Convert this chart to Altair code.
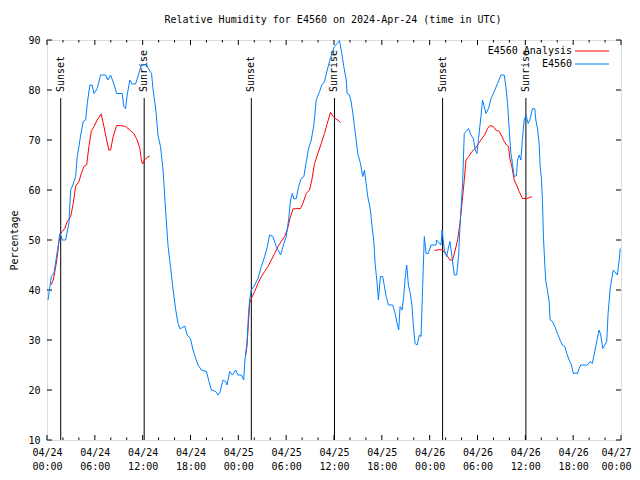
import altair as alt
import pandas as pd

# hours since 2024-04-24 00:00 UTC, relative humidity (%)
blue_h = [0.13, 0.54, 0.88, 1.29, 1.63, 1.92, 2.34, 2.75, 2.97, 3.29, 3.59, 3.79, 4.01, 4.22, 4.55, 4.85,
          5.05, 5.38, 5.67, 5.89, 6.30, 6.72, 7.35, 7.64, 7.98, 8.39, 8.73, 9.43, 9.64, 9.86, 10.06, 10.39,
          10.68, 11.11, 11.52, 11.81, 12.48, 12.77, 13.11, 13.31, 13.65, 13.94, 14.24, 14.56, 14.90, 15.19,
          15.49, 15.82, 16.15, 16.44, 16.65, 16.87, 17.28, 17.57, 17.99, 18.32, 18.66, 18.95, 19.37, 20.00,
          20.32, 20.62, 21.16, 21.45, 21.66, 22.08, 22.41, 22.58, 22.92, 23.25, 23.67, 23.95, 24.38, 24.67,
          24.83, 25.08, 25.26, 25.42, 25.63, 26.05, 26.46, 26.89, 27.30, 27.64, 27.92, 28.34, 28.76, 29.30,
          29.71, 30.01, 30.30, 30.55, 30.77, 30.97, 31.27, 31.56, 31.89, 32.22, 32.52, 32.81, 33.15, 33.47,
          33.77, 34.19, 34.47, 34.81, 35.15, 35.44, 35.73, 36.06, 36.40, 36.69, 36.98, 37.23, 37.53, 37.65,
          37.94, 38.15, 38.36, 38.57, 38.78, 38.98, 39.32, 39.61, 39.82, 40.03, 40.23, 40.57, 40.73, 40.98,
          41.16, 41.41, 41.57, 41.82, 42.11, 42.33, 42.54, 42.83, 43.36, 43.67, 43.91, 44.12, 44.29, 44.54,
          44.74, 44.95, 45.12, 45.33, 45.58, 45.79, 45.96, 46.17, 46.42, 46.71, 46.92, 47.12, 47.33, 47.55,
          47.83, 48.17, 48.80, 48.88, 49.42, 49.55, 49.84, 50.13, 50.38, 50.55, 50.80, 51.09, 51.38, 51.63,
          51.80, 52.00, 52.13, 52.34, 52.55, 52.88, 53.18, 53.47, 53.72, 53.93, 54.13, 54.43, 54.63, 54.85,
          55.06, 55.39, 55.69, 56.10, 56.51, 56.94, 57.35, 57.56, 57.77, 57.98, 58.19, 58.39, 58.60, 58.89,
          59.02, 59.23, 59.44, 59.64, 59.86, 60.07, 60.36, 60.61, 60.90, 61.19, 61.32, 61.52, 61.73, 61.86,
          62.02, 62.15, 62.27, 62.45, 62.57, 62.77, 62.99, 63.11, 63.40, 63.70, 64.03, 64.36, 64.65, 64.95,
          65.20, 65.49, 65.78, 66.03, 66.33, 66.53, 66.74, 66.95, 67.79, 68.12, 68.41, 68.62, 68.83, 69.03,
          69.25, 69.46, 69.71, 69.96, 70.21, 70.38, 70.63, 70.84, 71.04, 71.21, 71.54, 71.78, 71.90]
blue_v = [38.0, 42.7, 43.4, 47.7, 51.4, 50.0, 50.0, 53.4, 60.0, 61.2, 62.7, 66.7, 68.7, 71.0, 73.7, 74.0,
          77.3, 81.0, 81.0, 79.3, 80.3, 83.0, 83.0, 82.0, 83.0, 81.2, 79.3, 79.3, 76.7, 76.3, 79.0, 82.0,
          81.2, 81.2, 83.3, 85.0, 85.1, 84.1, 83.3, 80.0, 76.0, 70.7, 68.7, 64.0, 55.3, 48.7,
          44.7, 40.0, 36.0, 33.3, 32.3, 32.4, 32.8, 31.0, 30.3, 28.0, 26.3, 25.0, 24.0, 23.7,
          21.7, 20.0, 19.7, 19.0, 19.4, 22.0, 21.7, 21.0, 23.7, 23.0, 24.0, 23.0, 23.0, 22.0,
          26.0, 29.3, 34.7, 38.0, 40.0, 41.0, 42.3, 44.7, 46.7, 48.7, 51.0, 50.7, 48.7, 47.0,
          49.3, 50.7, 54.0, 58.0, 59.3, 58.2, 58.3, 60.7, 62.3, 62.7, 65.7, 68.3, 70.0, 73.0,
          78.0, 79.7, 81.0, 81.7, 84.0, 85.7, 87.3, 88.7, 89.3, 89.9, 87.3, 84.7, 82.0, 79.3,
          79.0, 77.7, 75.3, 72.7, 70.0, 67.3, 65.3, 62.7, 64.0, 61.3, 58.7, 56.0, 53.3, 50.0,
          45.3, 41.3, 38.0, 42.7, 42.7, 40.7, 38.7, 37.0, 37.0, 35.3, 33.3, 32.0, 36.7, 36.0,
          38.7, 42.7, 45.0, 41.0, 39.3, 36.7, 32.7, 29.3, 29.0, 31.0, 30.7, 40.7, 50.7, 47.3,
          47.3, 49.0, 49.0, 50.0, 49.0, 52.0, 48.0, 46.7, 48.7, 49.7, 46.7, 43.0, 43.0, 46.7,
          52.7, 58.0, 61.3, 71.3, 71.7, 72.3, 71.0, 70.3, 68.0, 67.3, 70.3, 74.7, 78.0, 76.7,
          75.3, 76.3, 78.3, 79.7, 81.3, 83.0, 83.0, 80.7, 77.3, 72.0, 67.3, 65.3, 62.7, 62.9,
          66.0, 67.0, 66.0, 70.3, 74.0, 75.0, 73.3, 74.3, 76.3, 76.2, 74.0, 72.3, 69.3, 64.7,
          62.3, 57.7, 50.7, 44.7, 41.7, 40.0, 37.7, 34.0, 33.7, 32.7, 31.3, 30.0, 29.0, 28.7,
          27.3, 26.0, 25.0, 23.3, 23.4, 23.3, 24.3, 25.0, 25.0, 25.7, 25.3, 27.0, 28.7, 30.3,
          32.0, 31.0, 28.3, 29.0, 29.7, 35.3, 40.0, 42.3, 44.0, 43.7, 43.0, 46.0, 48.3]

red1_h = [0.50, 0.79, 1.09, 1.29, 1.50, 1.72, 1.92, 2.22, 2.54, 2.97, 3.29, 3.59, 4.01, 4.30, 4.63, 4.97,
          5.26, 5.55, 5.89, 6.30, 6.80, 7.14, 7.48, 7.76, 7.98, 8.30, 8.73, 9.23, 9.86, 10.39, 10.89, 11.31,
          11.65, 11.81, 11.98, 12.23, 12.56, 12.90]
red1_v = [41.0, 42.0, 44.7, 46.7, 49.7, 51.3, 51.7, 52.3, 53.7, 54.7, 57.3, 60.7, 61.7, 63.3, 64.7, 65.0,
          68.7, 71.7, 72.7, 74.0, 75.2, 72.7, 70.0, 68.0, 68.0, 70.7, 72.9, 72.9, 72.7, 72.0, 71.3, 70.0,
          68.3, 66.3, 65.2, 66.0, 66.5, 66.8]
red2_h = [24.92, 25.08, 25.26, 25.42, 25.63, 26.05, 26.46, 26.89, 27.30, 27.71, 28.14, 28.55, 28.96, 29.39,
          29.80, 30.14, 30.43, 30.84, 31.39, 31.81, 32.09, 32.52, 32.93, 33.22, 33.56, 33.97, 34.40, 34.81,
          35.15, 35.56, 35.85, 36.15, 36.48, 36.81]
red2_v = [27.0, 28.7, 33.3, 37.3, 38.3, 39.7, 41.3, 42.7, 43.7, 44.7, 46.0, 47.3, 48.7, 49.7,
          50.7, 52.0, 54.0, 56.2, 56.3, 56.3, 57.3, 59.3, 60.0, 62.0, 65.3, 67.3, 69.3, 71.3,
          73.3, 75.5, 74.8, 74.3, 74.0, 73.5]
red3_h = [48.59, 49.21, 49.62, 49.96, 50.25, 50.55, 50.88, 51.21, 51.50, 51.80, 52.05, 52.34, 52.55, 52.88,
          53.31, 53.72, 54.13, 54.56, 54.97, 55.26, 55.56, 55.97, 56.31, 56.73, 57.06, 57.35, 57.64, 57.89,
          58.06, 58.31, 58.60, 58.89, 59.23, 59.64, 60.14, 60.57, 60.82]
red3_v = [47.9, 48.1, 48.0, 47.3, 46.7, 46.0, 46.0, 48.0, 50.0, 53.3, 57.3, 62.0, 66.0, 66.7,
          67.7, 68.3, 69.3, 70.3, 71.2, 72.3, 72.9, 72.7, 72.0, 71.7, 70.7, 69.7, 69.0, 68.7,
          66.3, 64.7, 62.0, 61.0, 59.7, 58.3, 58.3, 58.5, 58.7]

sun_h = [1.72, 12.19, 25.63, 36.06, 49.62, 60.07]
sun_label = ["Sunset", "Sunrise", "Sunset", "Sunrise", "Sunset", "Sunrise"]

series = ["E4560 Analysis", "E4560"]
colors = ["#ff0000", "#0080ff"]
title_text = ["Relative Humidity for E4560 on 2024-Apr-24 (time in UTC)"]
FONT = "DejaVu Sans Mono"

red_rows = []
for seg, (hh, vv) in enumerate([(red1_h, red1_v), (red2_h, red2_v), (red3_h, red3_v)]):
    for h, v in zip(hh, vv):
        red_rows.append({"hour": h, "rh": v, "series": series[0], "seg": f"r{seg}"})
red_df = pd.DataFrame(red_rows)
blue_df = pd.DataFrame({"hour": blue_h, "rh": blue_v, "series": series[1], "seg": "b"})

sun_df = pd.DataFrame({"hour": sun_h, "label": sun_label, "y0": 10.0, "y1": 78.4, "yt": 79.6})

xs = alt.Scale(domain=[0, 72], nice=False, zero=False)
ys = alt.Scale(domain=[10, 90], nice=False, zero=False)
cs = alt.Scale(domain=series, range=colors)

x_axis = alt.Axis(
    values=list(range(0, 73, 6)), grid=False, domain=False, ticks=False, tickSize=0,
    labelExpr="['04/' + (24 + floor(datum.value / 24)), ((datum.value % 24) < 10 ? '0' : '') + (datum.value % 24) + ':00']",
    labelFont=FONT, labelFontSize=10, labelColor="black", labelPadding=7, labelLineHeight=14,
    labelBaseline="top", labelOverlap=False, labelFlush=False, labelBound=False, title=None,
    labelOffset={"condition": {"test": "datum.value >= 72", "value": -5}, "value": 0},
)
y_axis = alt.Axis(
    values=list(range(10, 91, 10)), grid=False, domain=False, ticks=False, tickSize=0,
    labelFont=FONT, labelFontSize=10, labelColor="black", labelPadding=7,
    title="Percentage", titleFont=FONT, titleFontSize=10, titleFontWeight="normal",
    titleColor="black", titlePadding=8,
)

# tick marks (inward, mirrored like gnuplot)
xt = pd.DataFrame({"hour": list(range(0, 73, 2))})
xt["len"] = [1.0 if h % 6 == 0 else 0.5 for h in xt["hour"]]
xt["b0"] = 10.0
xt["b1"] = 10.0 + xt["len"]
xt["t0"] = 90.0
xt["t1"] = 90.0 - xt["len"]
yt = pd.DataFrame({"rh": list(range(10, 91, 10))})
yt["l0"] = 0.0
yt["l1"] = 0.63
yt["r0"] = 72.0
yt["r1"] = 72.0 - 0.63

ticks_b = alt.Chart(xt).mark_rule(color="black", strokeWidth=1).encode(
    x=alt.X("hour:Q", scale=xs, axis=x_axis), y=alt.Y("b0:Q", scale=ys, axis=y_axis), y2="b1:Q")
ticks_t = alt.Chart(xt).mark_rule(color="black", strokeWidth=1).encode(
    x=alt.X("hour:Q", scale=xs), y=alt.Y("t0:Q", scale=ys), y2="t1:Q")
ticks_l = alt.Chart(yt).mark_rule(color="black", strokeWidth=1).encode(
    y=alt.Y("rh:Q", scale=ys), x=alt.X("l0:Q", scale=xs), x2="l1:Q")
ticks_r = alt.Chart(yt).mark_rule(color="black", strokeWidth=1).encode(
    y=alt.Y("rh:Q", scale=ys), x=alt.X("r0:Q", scale=xs), x2="r1:Q")

sun_rules = alt.Chart(sun_df).mark_rule(color="black", strokeWidth=1).encode(
    x=alt.X("hour:Q", scale=xs), y=alt.Y("y0:Q", scale=ys), y2="y1:Q")
sun_text = alt.Chart(sun_df).mark_text(
    angle=270, align="left", baseline="middle", font=FONT, fontSize=10, color="black"
).encode(x=alt.X("hour:Q", scale=xs), y=alt.Y("yt:Q", scale=ys), text="label:N")

red_line = alt.Chart(red_df).mark_line(strokeWidth=1, clip=True).encode(
    x=alt.X("hour:Q", scale=xs), y=alt.Y("rh:Q", scale=ys),
    color=alt.Color("series:N", scale=cs, legend=None), detail="seg:N", order="hour:Q")
blue_line = alt.Chart(blue_df).mark_line(strokeWidth=1, clip=True).encode(
    x=alt.X("hour:Q", scale=xs), y=alt.Y("rh:Q", scale=ys),
    color=alt.Color("series:N", scale=cs, legend=None), detail="seg:N", order="hour:Q")

# title as text above the plot
title_mark = alt.Chart(pd.DataFrame({"t": title_text})).mark_text(
    align="center", baseline="middle", font=FONT, fontSize=10, color="black"
).encode(x=alt.value(286), y=alt.value(-20), text="t:N")

# gnuplot-style key (top right, label left of the sample line)
leg_df = pd.DataFrame({"series": series})
leg_layers = []
for i, s in enumerate(series):
    yy = 11 + i * 13
    d = leg_df[leg_df["series"] == s]
    leg_layers.append(alt.Chart(d).mark_text(align="right", baseline="middle", font=FONT, fontSize=10,
                                             color="black").encode(
        x=alt.value(525), y=alt.value(yy), text="series:N"))
    leg_layers.append(alt.Chart(d).mark_rule(strokeWidth=1).encode(
        x=alt.value(528), x2=alt.value(562), y=alt.value(yy),
        color=alt.Color("series:N", scale=cs, legend=None)))

chart = alt.layer(
    ticks_b, ticks_t, ticks_l, ticks_r, sun_rules, sun_text, red_line, blue_line, title_mark, *leg_layers
).properties(
    width=574, height=400,
    autosize=alt.AutoSizeParams(type="none"),
    padding={"left": 39, "top": 32, "right": 11, "bottom": 32},
).configure_view(stroke="black", strokeWidth=1).configure(background="white")

chart.save("out.html", embed_options={"renderer": "svg", "actions": False})
